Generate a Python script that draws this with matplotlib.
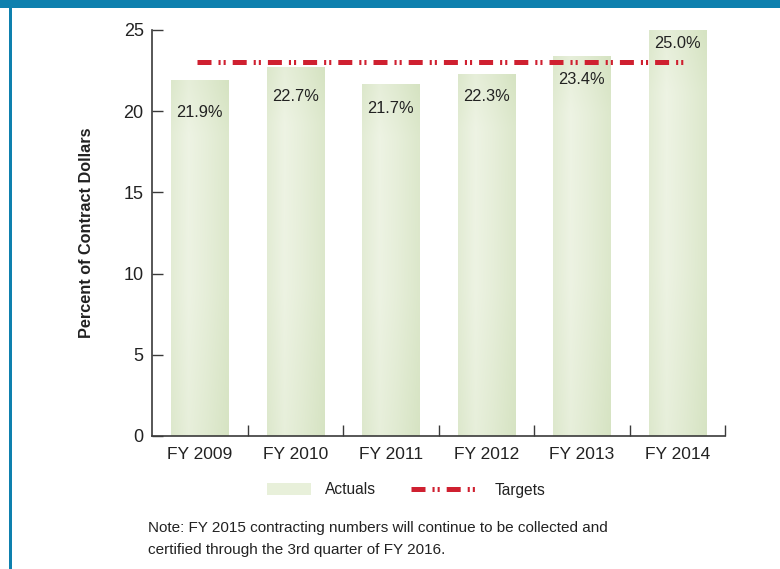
import numpy as np
import matplotlib
matplotlib.use("Agg")
import matplotlib.pyplot as plt
from matplotlib.lines import Line2D
from matplotlib.patches import Rectangle, Patch

# data
years = ["FY 2009", "FY 2010", "FY 2011", "FY 2012", "FY 2013", "FY 2014"]
actuals = [21.9, 22.7, 21.7, 22.3, 23.4, 25.0]
targets = [23.0, 23.0, 23.0, 23.0, 23.0, 23.0]
yticks = [0, 5, 10, 15, 20, 25]
note = ("Note: FY 2015 contracting numbers will continue to be collected and\n"
        "certified through the 3rd quarter of FY 2016.")

plt.rcParams['font.family'] = ['Liberation Sans', 'DejaVu Sans']

BLUE = '#0e80ae'
RED = '#cf2030'
AXC = '#3a3a3a'
TXT = '#222222'

fig = plt.figure(figsize=(7.8, 5.69), dpi=100)
fig.patch.set_facecolor('white')
# frame decoration: top band and left rule
fig.add_artist(Rectangle((0, 1 - 8 / 569), 1, 8 / 569, transform=fig.transFigure,
                         color=BLUE, lw=0))
fig.add_artist(Rectangle((9 / 780, 0), 3 / 780, 1, transform=fig.transFigure,
                         color=BLUE, lw=0))

ax = fig.add_axes([152 / 780, 1 - 436 / 569, 573 / 780, 406 / 569])
x = np.arange(len(years))

# gradient texture for bars
hx = np.linspace(0, 1, 64)
prof = np.interp(hx, [0, 0.3, 0.6, 1], [0.6, 0.05, 0.4, 0.95])
vy = np.linspace(0, 1, 64)
vprof = np.interp(vy, [0, 0.15, 0.6, 1], [0.75, 0.3, 0.35, 0.7])
t = np.clip(0.6 * prof[None, :] + 0.5 * vprof[:, None], 0, 1)
light = np.array([0.955, 0.97, 0.925])
dark = np.array([0.83, 0.885, 0.75])
grad = light[None, None, :] * (1 - t[..., None]) + dark[None, None, :] * t[..., None]

bars = ax.bar(x, actuals, width=0.6, color='#e6eed6', lw=0, zorder=1)
for b in bars:
    x0, y0 = b.get_x(), b.get_y()
    im = ax.imshow(grad, extent=[x0, x0 + b.get_width(), y0, y0 + b.get_height()],
                   aspect='auto', origin='upper', zorder=1.5, interpolation='bilinear')
    im.set_clip_path(b)

dash = (0, (2.8, 1.4, 0.42, 0.6, 0.42, 1.4))
xs = x.astype(float)
xs[0] -= 0.03
xs[-1] += 0.1
ax.plot(xs, targets, color=RED, lw=3.6, linestyle=dash, zorder=3)

offsets = [-32, -29, -25, -23, -24, -14]
for xi, v, off in zip(x, actuals, offsets):
    ax.annotate(f"{v:.1f}%", (xi, v), xytext=(0, off), textcoords='offset pixels',
                ha='center', va='center', fontsize=11.8, color=TXT, zorder=4)

ax.set_xlim(-0.5, len(years) - 0.5)
ax.set_ylim(0, 25)
ax.set_yticks(yticks)
ax.set_xticks(x)
ax.set_xticklabels(years)
ax.set_xticks(x + 0.5, minor=True)
ax.tick_params(axis='x', which='major', length=0, pad=8, labelsize=12.5, labelcolor=TXT)
ax.tick_params(axis='x', which='minor', direction='in', length=8, width=1, color=AXC)
ax.tick_params(axis='y', direction='in', length=8, width=1, color=AXC,
               pad=6, labelsize=13, labelcolor=TXT)
for s in ['top', 'right']:
    ax.spines[s].set_visible(False)
for s in ['left', 'bottom']:
    ax.spines[s].set_color(AXC)
    ax.spines[s].set_linewidth(1.2)
ax.set_ylabel("Percent of Contract Dollars", fontsize=11.7, fontweight='bold',
              color=TXT)
ax.yaxis.set_label_coords(-0.101, 0.5)

fs = 11.2
leg1 = fig.legend([Patch(facecolor='#e8f0da', lw=0)], ["Actuals"],
                  loc='center left', bbox_to_anchor=(267 / 780, 1 - 490 / 569),
                  frameon=False, fontsize=fs, handlelength=2.8, handleheight=0.85,
                  handletextpad=0.95, borderpad=0, borderaxespad=0)
for tx in leg1.get_texts():
    tx.set_color(TXT)
leg2 = fig.legend([Line2D([], [], color=RED, lw=3.6, linestyle=dash)], ["Targets"],
                  loc='center left', bbox_to_anchor=(411 / 780, 1 - 490 / 569),
                  frameon=False, fontsize=fs, handlelength=4.3,
                  handletextpad=1.1, borderpad=0, borderaxespad=0)
for tx in leg2.get_texts():
    tx.set_color(TXT)

fig.text(148 / 780, 1 - 521 / 569, note, ha='left', va='top', fontsize=11,
         color=TXT, linespacing=1.75)

fig.savefig("out.png", dpi=100)
